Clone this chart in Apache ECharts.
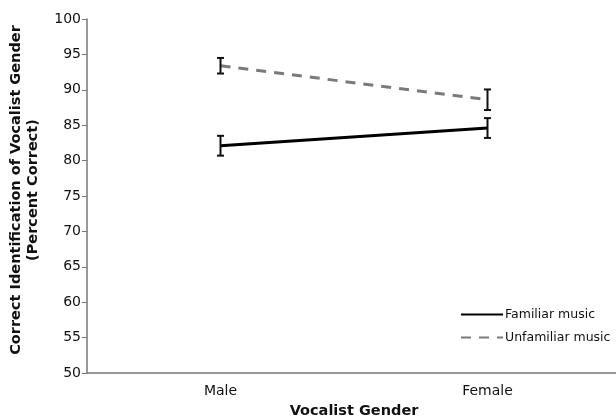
<!DOCTYPE html>
<html><head><meta charset="utf-8">
<script src="https://cdn.jsdelivr.net/npm/echarts@6/dist/echarts.min.js"></script>
<style>html,body{margin:0;padding:0;background:#fff}#c{width:616px;height:420px}</style>
</head><body><div id="c"></div>
<script>
var categories = ['Male', 'Female'];
var familiar = [82.1, 84.6];
var familiarErr = [1.4, 1.4];
var unfamiliar = [93.4, 88.6];
var unfamiliarErr = [1.1, 1.45];
var yTicks = [50, 55, 60, 65, 70, 75, 80, 85, 90, 95, 100];

var FONT = 'DejaVu Sans, Liberation Sans, Arial, sans-serif';

function errData(vals, errs) {
  return vals.map(function (v, i) { return [i, v - errs[i], v + errs[i]]; });
}
function renderErr(params, api) {
  var x = api.value(0);
  var lo = api.coord([x, api.value(1)]);
  var hi = api.coord([x, api.value(2)]);
  var w = 3.5;
  var st = { stroke: '#111', lineWidth: 2 };
  return { type: 'group', children: [
    { type: 'line', shape: { x1: lo[0], y1: lo[1], x2: hi[0], y2: hi[1] }, style: st },
    { type: 'line', shape: { x1: lo[0] - w, y1: lo[1], x2: lo[0] + w, y2: lo[1] }, style: st },
    { type: 'line', shape: { x1: hi[0] - w, y1: hi[1], x2: hi[0] + w, y2: hi[1] }, style: st }
  ]};
}

var chart = echarts.init(document.getElementById('c'));
chart.setOption({
  animation: false,
  textStyle: { fontFamily: FONT },
  grid: { left: 87, right: -5, top: 19, bottom: 47, outerBoundsMode: 'none', containLabel: false },
  legend: {
    orient: 'vertical', left: 455, top: 303, itemWidth: 42, itemHeight: 14, itemGap: 10,
    itemStyle: { opacity: 0 },
    textStyle: { fontSize: 12.5, color: '#111', padding: [0, 0, 0, -3] },
    data: ['Familiar music', 'Unfamiliar music']
  },
  xAxis: {
    type: 'category', data: categories,
    axisLine: { lineStyle: { color: '#777', width: 1.5 } },
    axisTick: { alignWithLabel: true, inside: true, length: 4, lineStyle: { color: '#777' } },
    axisLabel: { fontSize: 14, color: '#111', margin: 11 },
    name: 'Vocalist Gender', nameLocation: 'middle', nameGap: 31,
    nameTextStyle: { fontSize: 14.5, fontWeight: 'bold', color: '#111' }
  },
  yAxis: {
    type: 'value', min: 50, max: 100, interval: 5,
    axisLine: { show: true, lineStyle: { color: '#777', width: 1.5 } },
    axisTick: { show: true, length: 5, lineStyle: { color: '#777' } },
    splitLine: { show: false },
    axisLabel: { fontSize: 14, color: '#111', margin: 6,
      formatter: function (v) { return yTicks.indexOf(v) >= 0 ? String(v) : ''; } }
  },
  graphic: [{
    type: 'text', x: 25, y: 190, rotation: Math.PI / 2,
    style: { text: 'Correct Identification of Vocalist Gender\n(Percent Correct)',
      fontSize: 14.5, fontWeight: 'bold', fill: '#111', align: 'center', verticalAlign: 'middle',
      lineHeight: 17, fontFamily: FONT }
  }],
  series: [
    { name: 'Familiar music', type: 'line', data: familiar, symbol: 'none',
      lineStyle: { color: '#000', width: 3 }, itemStyle: { color: '#000' } },
    { name: 'Unfamiliar music', type: 'line', data: unfamiliar, symbol: 'none',
      lineStyle: { color: '#7a7a7a', width: 3, type: [10, 8] }, itemStyle: { color: '#7a7a7a' } },
    { type: 'custom', data: errData(familiar, familiarErr), renderItem: renderErr, z: 5 },
    { type: 'custom', data: errData(unfamiliar, unfamiliarErr), renderItem: renderErr, z: 5 }
  ]
});
</script></body></html>
